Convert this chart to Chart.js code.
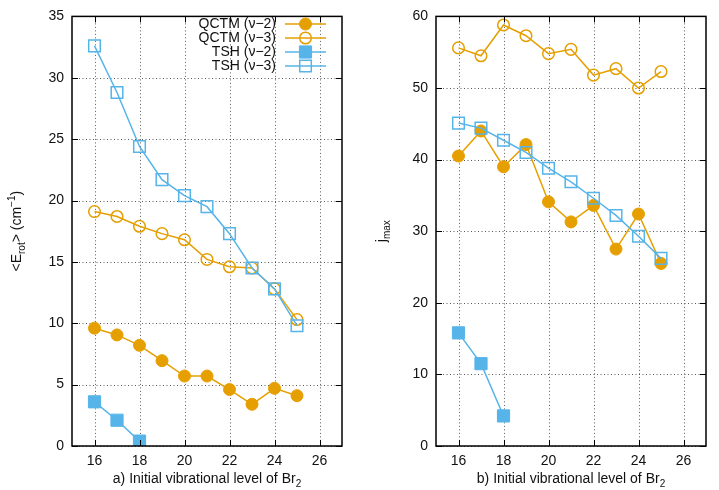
<!DOCTYPE html>
<html>
<head>
<meta charset="utf-8">
<script src="https://cdn.jsdelivr.net/npm/chart.js@4"></script>
<style>
  body { margin: 0; background: #fff; }
  #left { position: absolute; left: 0; top: 0; }
  #right { position: absolute; left: 360px; top: 0; }
</style>
</head>
<body>
<canvas id="left" width="360" height="490"></canvas>
<canvas id="right" width="359" height="490"></canvas>
<script>
// vibrational levels
const levels = [16, 17, 18, 19, 20, 21, 22, 23, 24, 25];
const levelsTsh2 = [16, 17, 18];
const xTicks = [16, 18, 20, 22, 24, 26];

// a) <E_rot> (cm-1)
const erotQctm2 = [9.6, 9.05, 8.2, 6.95, 5.7, 5.7, 4.6, 3.4, 4.7, 4.1];
const erotQctm3 = [19.1, 18.7, 17.9, 17.3, 16.8, 15.2, 14.6, 14.5, 12.8, 10.3];
const erotTsh2 = [3.6, 2.1, 0.4];
const erotTsh3 = [32.6, 28.8, 24.4, 21.7, 20.4, 19.5, 17.3, 14.5, 12.8, 9.8];
const erotTicks = [0, 5, 10, 15, 20, 25, 30, 35];

// b) j_max
const jQctm2 = [40.5, 44.0, 39.0, 42.1, 34.1, 31.3, 33.6, 27.5, 32.4, 25.5];
const jQctm3 = [55.6, 54.5, 58.8, 57.3, 54.8, 55.4, 51.8, 52.7, 50.0, 52.3];
const jTsh2 = [15.8, 11.5, 4.2];
const jTsh3 = [45.1, 44.4, 42.7, 41.0, 38.8, 36.9, 34.6, 32.2, 29.3, 26.2];
const jTicks = [0, 10, 20, 30, 40, 50, 60];

const seriesNames = ['QCTM (ν−2)', 'QCTM (ν−3)', 'TSH (ν−2)', 'TSH (ν−3)'];

const ORANGE = '#E69F00';
const BLUE = '#56B4E9';
const FONT = '"Liberation Sans", Arial, Helvetica, sans-serif';

function pts(xs, ys) {
  return xs.map((x, i) => ({ x: x, y: ys[i] }));
}

// marker look per series (same order as seriesNames)
const styles = [
  { color: ORANGE, pointStyle: 'circle', filled: true, r: 6 },
  { color: ORANGE, pointStyle: 'circle', filled: false, r: 5.8 },
  { color: BLUE, pointStyle: 'rect', filled: true, r: 8.6 },
  { color: BLUE, pointStyle: 'rect', filled: false, r: 8.2 }
];

function makeDatasets(seriesData) {
  return seriesData.map((d, i) => {
    const s = styles[i];
    return {
      label: seriesNames[i],
      data: d,
      borderColor: s.color,
      backgroundColor: s.filled ? s.color : 'rgba(0,0,0,0)',
      pointBorderColor: s.color,
      pointBackgroundColor: s.filled ? s.color : 'rgba(0,0,0,0)',
      pointStyle: s.pointStyle,
      pointRadius: s.r,
      pointBorderWidth: s.filled ? 1 : 1.5,
      borderWidth: 1.5,
      tension: 0,
      fill: false,
      order: 3 - i,
      clip: 0
    };
  });
}

// text with sub/superscripts: [text, 0 normal | 1 sub | 2 sup]
function partFont(p) {
  return (p[1] ? 10 : 14) + 'px ' + FONT;
}
function drawRich(ctx, parts, x, y) {
  let w = 0;
  parts.forEach(p => { ctx.font = partFont(p); w += ctx.measureText(p[0]).width; });
  let cx = x - w / 2;
  ctx.textAlign = 'left';
  ctx.textBaseline = 'alphabetic';
  parts.forEach(p => {
    ctx.font = partFont(p);
    const dy = p[1] === 1 ? 4 : (p[1] === 2 ? -6 : 0);
    ctx.fillText(p[0], cx, y + dy);
    cx += ctx.measureText(p[0]).width;
  });
}

function drawMarker(ctx, s, x, y) {
  ctx.save();
  ctx.strokeStyle = s.color;
  ctx.fillStyle = s.color;
  ctx.lineWidth = s.filled ? 1 : 1.5;
  ctx.beginPath();
  if (s.pointStyle === 'circle') {
    ctx.arc(x, y, s.r, 0, Math.PI * 2);
  } else {
    const h = s.r * Math.SQRT1_2;
    ctx.rect(x - h, y - h, 2 * h, 2 * h);
  }
  if (s.filled) ctx.fill();
  ctx.stroke();
  ctx.restore();
}

const framePlugin = {
  id: 'frame',
  beforeDatasetsDraw(chart) {
    // dotted grid at the major ticks
    const { ctx, chartArea: a, scales: { x, y } } = chart;
    ctx.save();
    ctx.strokeStyle = 'rgba(0,0,0,0.65)';
    ctx.lineWidth = 1;
    ctx.setLineDash([1, 2.5]);
    x.ticks.forEach(t => {
      const px = Math.round(x.getPixelForValue(t.value)) + 0.5;
      ctx.beginPath(); ctx.moveTo(px, a.top); ctx.lineTo(px, a.bottom); ctx.stroke();
    });
    y.ticks.forEach(t => {
      const py = Math.round(y.getPixelForValue(t.value)) + 0.5;
      ctx.beginPath(); ctx.moveTo(a.left, py); ctx.lineTo(a.right, py); ctx.stroke();
    });
    ctx.restore();
  },
  afterDraw(chart, args, opts) {
    const { ctx, chartArea: a, scales: { x, y } } = chart;
    ctx.save();
    // border + inward ticks
    ctx.strokeStyle = '#000';
    ctx.lineWidth = 1.5;
    ctx.strokeRect(a.left, a.top, a.right - a.left, a.bottom - a.top);
    ctx.lineWidth = 1;
    const tl = 6;
    x.ticks.forEach(t => {
      const px = Math.round(x.getPixelForValue(t.value)) + 0.5;
      ctx.beginPath();
      ctx.moveTo(px, a.bottom); ctx.lineTo(px, a.bottom - tl);
      ctx.moveTo(px, a.top); ctx.lineTo(px, a.top + tl);
      ctx.stroke();
    });
    y.ticks.forEach(t => {
      const py = Math.round(y.getPixelForValue(t.value)) + 0.5;
      ctx.beginPath();
      ctx.moveTo(a.left, py); ctx.lineTo(a.left + tl, py);
      ctx.moveTo(a.right, py); ctx.lineTo(a.right - tl, py);
      ctx.stroke();
    });

    // axis titles
    ctx.fillStyle = '#111';
    drawRich(ctx, opts.xTitle, (a.left + a.right) / 2, 483);
    ctx.save();
    ctx.translate(opts.yTitleX, (a.top + a.bottom) / 2);
    ctx.rotate(-Math.PI / 2);
    drawRich(ctx, opts.yTitle, 0, 0);
    ctx.restore();

    // key, inside the top right corner
    if (opts.legend) {
      seriesNames.forEach((name, i) => {
        const ly = 24 + i * 14;
        ctx.font = '14px ' + FONT;
        ctx.fillStyle = '#111';
        ctx.textAlign = 'right';
        ctx.textBaseline = 'middle';
        ctx.fillText(name, 276, ly);
        const s = styles[i];
        ctx.strokeStyle = s.color;
        ctx.lineWidth = 1.5;
        ctx.beginPath(); ctx.moveTo(285, ly); ctx.lineTo(326, ly); ctx.stroke();
        drawMarker(ctx, s, 305.5, ly);
      });
    }
    ctx.restore();
  }
};

function makeConfig(seriesData, yMax, yTicks, yWidth, padRight, opts) {
  return {
    type: 'line',
    data: { datasets: makeDatasets(seriesData) },
    options: {
      responsive: false,
      animation: false,
      layout: { padding: { top: 10, right: padRight, left: 0, bottom: 0 } },
      scales: {
        x: {
          type: 'linear',
          min: 15,
          max: 27,
          afterBuildTicks: s => { s.ticks = xTicks.map(v => ({ value: v })); },
          afterFit: s => { s.height = 44; },
          grid: { display: false, drawTicks: false },
          border: { display: false },
          ticks: { padding: 7, color: '#111', font: { family: FONT, size: 14 } }
        },
        y: {
          type: 'linear',
          min: 0,
          max: yMax,
          afterBuildTicks: s => { s.ticks = yTicks.map(v => ({ value: v })); },
          afterFit: s => { s.width = yWidth; },
          grid: { display: false, drawTicks: false },
          border: { display: false },
          ticks: { padding: 8, color: '#111', font: { family: FONT, size: 14 } }
        }
      },
      plugins: {
        legend: { display: false },
        tooltip: { enabled: false },
        frame: opts
      }
    },
    plugins: [framePlugin]
  };
}

new Chart(document.getElementById('left'), makeConfig(
  [pts(levels, erotQctm2), pts(levels, erotQctm3), pts(levelsTsh2, erotTsh2), pts(levels, erotTsh3)],
  35, erotTicks, 72, 18,
  {
    legend: true,
    yTitleX: 21,
    xTitle: [['a) Initial vibrational level of Br', 0], ['2', 1]],
    yTitle: [['<E', 0], ['rot', 1], ['> (cm', 0], ['−1', 2], [')', 0]]
  }
));

new Chart(document.getElementById('right'), makeConfig(
  [pts(levels, jQctm2), pts(levels, jQctm3), pts(levelsTsh2, jTsh2), pts(levels, jTsh3)],
  60, jTicks, 76, 13,
  {
    legend: false,
    yTitleX: 26,
    xTitle: [['b) Initial vibrational level of Br', 0], ['2', 1]],
    yTitle: [['j', 0], ['max', 1]]
  }
));
</script>
</body>
</html>
